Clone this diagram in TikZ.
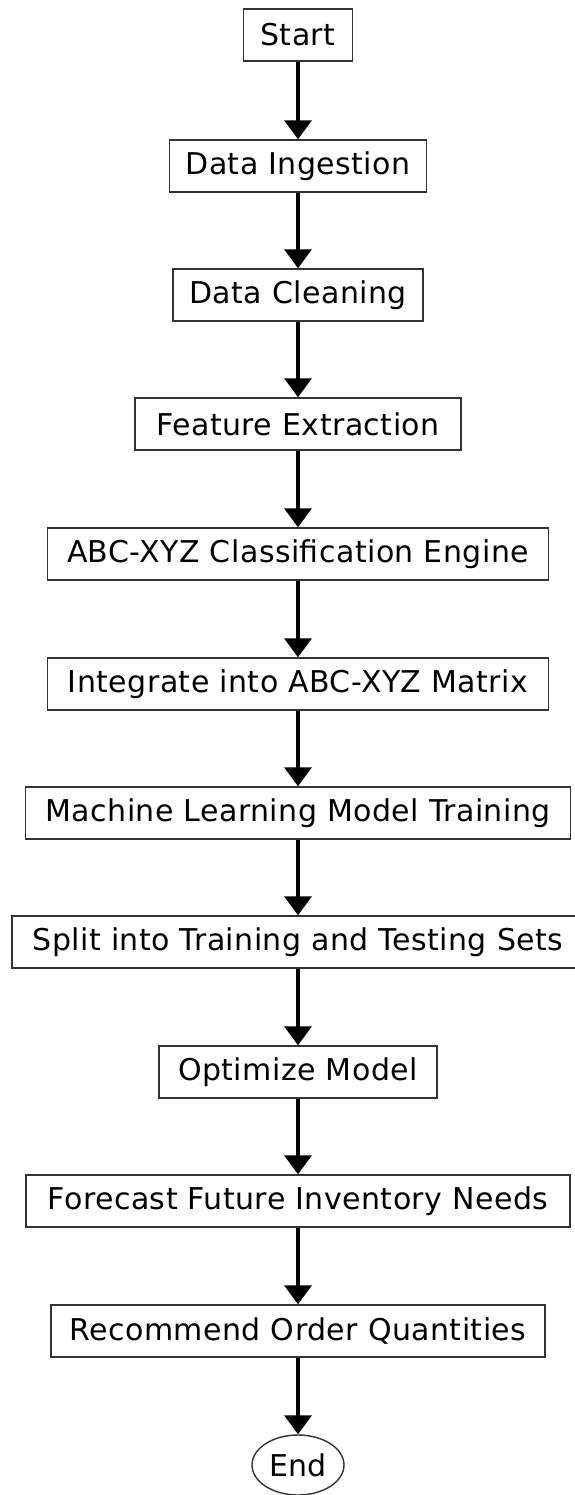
\documentclass[tikz,border=0pt]{standalone}
\usepackage{fontspec}
\setmainfont[LetterSpace=1.5]{DejaVu Sans}
\usetikzlibrary{arrows.meta,shapes.geometric}
\begin{document}
\begin{tikzpicture}[x=1pt,y=-1pt,
  stepbox/.style={draw=black!80,line width=1.4pt,minimum height=52pt,
    inner sep=0pt,fill=white,font=\fontsize{30}{34}\selectfont},
  endbox/.style={ellipse,draw=black!80,line width=1.4pt,minimum width=92pt,
    minimum height=60pt,inner sep=0pt,font=\fontsize{30}{34}\selectfont},
  flow/.style={line width=3.5pt,-{Triangle[width=27pt,length=19pt]}}
]
\useasboundingbox (0,0) rectangle (574,1495);

% process steps, top to bottom
\node[stepbox,minimum width=109pt] (start)    at (298,35)   {Start};
\node[stepbox,minimum width=257pt] (ingest)   at (298,166)  {Data Ingestion};
\node[stepbox,minimum width=250pt] (clean)    at (298,295)  {Data Cleaning};
\node[stepbox,minimum width=326pt] (feature)  at (298,424)  {Feature Extraction};
\node[stepbox,minimum width=501pt] (classify) at (298,554)  {ABC-XYZ Classification Engine};
\node[stepbox,minimum width=501pt] (matrix)   at (298,684)  {Integrate into ABC-XYZ Matrix};
\node[stepbox,minimum width=545pt] (train)    at (298,813)  {Machine Learning Model Training};
\node[stepbox,minimum width=572pt] (split)    at (298,942)  {Split into Training and Testing Sets};
\node[stepbox,minimum width=278pt] (optim)    at (298,1072) {Optimize Model};
\node[stepbox,minimum width=544pt] (forecast) at (298,1201) {Forecast Future Inventory Needs};
\node[stepbox,minimum width=494pt] (order)    at (298,1331) {Recommend Order Quantities};
\node[endbox] (stop) at (298,1465) {End};

% connectors
\draw[flow] (start)    -- (ingest);
\draw[flow] (ingest)   -- (clean);
\draw[flow] (clean)    -- (feature);
\draw[flow] (feature)  -- (classify);
\draw[flow] (classify) -- (matrix);
\draw[flow] (matrix)   -- (train);
\draw[flow] (train)    -- (split);
\draw[flow] (split)    -- (optim);
\draw[flow] (optim)    -- (forecast);
\draw[flow] (forecast) -- (order);
\draw[flow] (order)    -- (stop);
\end{tikzpicture}
\end{document}
